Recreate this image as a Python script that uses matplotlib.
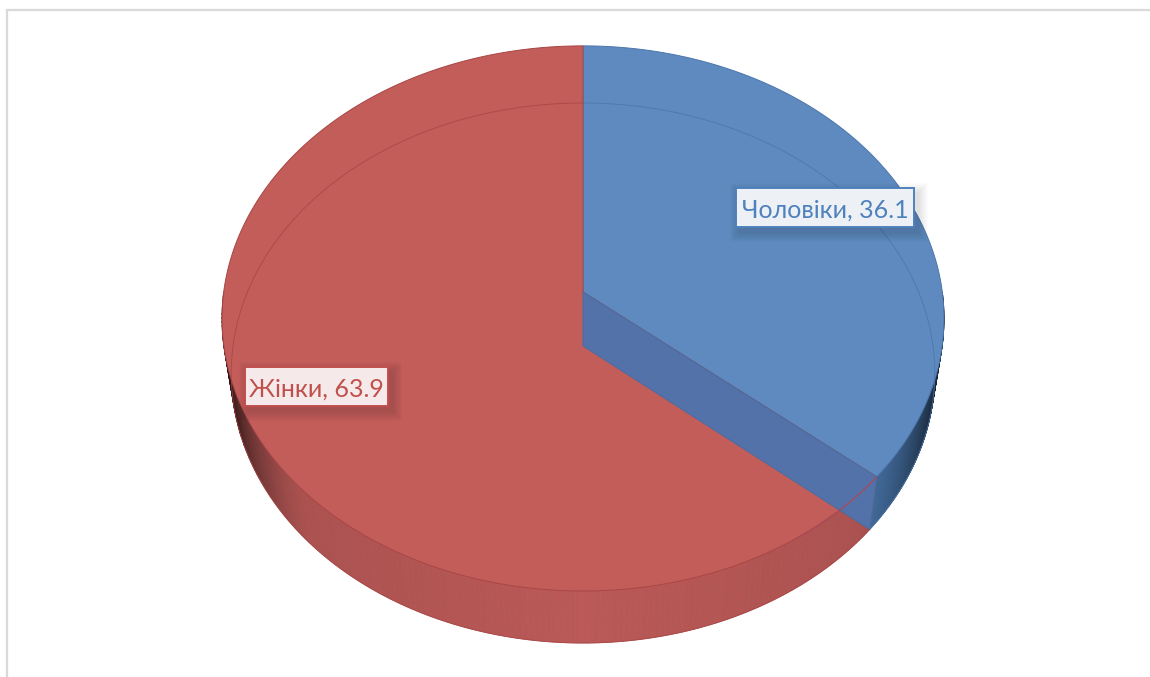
import numpy as np
import matplotlib
matplotlib.use('Agg')
import matplotlib.pyplot as plt
from matplotlib.patches import Polygon, Rectangle

labels = ['Чоловіки', 'Жінки']
values = [36.1, 63.9]
face_colors = ['#5E8ABF', '#C25D5A']
side_colors = ['#4A78AE', '#BA5957']
edge_colors = ['#4A76AB', '#A84545']
text_colors = ['#4F81BD', '#C0504D']
box_colors = ['#EDF1F6', '#F5E9E9']

plt.rcParams['font.family'] = ['Lato', 'Noto Sans', 'DejaVu Sans']

fig = plt.figure(figsize=(11.5, 6.77), dpi=100)
ax = fig.add_axes([0, 0, 1, 1])
ax.set_xlim(0, 1150)
ax.set_ylim(677, 0)
ax.axis('off')

# outer frame, only top and left fall inside the canvas
ax.plot([7, 7, 1150], [677, 10, 10], color='#D9D9D9', lw=1.6, solid_joinstyle='miter')

#perspective projection of the unit circle, angle runs clockwise from 12 o'clock
def project(theta, cy, a, b, k, r=1.0):
    x = r * np.sin(theta)
    y = r * np.cos(theta)
    w = 1 + k * y
    return 583 + a * x / w, cy - b * y / w

def top_rim(theta):
    return project(theta, 292, 359.3, 270, 0.097)

def bottom_rim(theta):
    return project(theta, 346, 350, 267.3, 0.1)

#wall goes dark towards the silhouette
def shade(color, theta):
    t = abs(np.sin(theta))
    f = 1 - 0.08 * min(1, t / 0.72) - 0.72 * max(0, (t - 0.72) / 0.28) ** 1.5
    return tuple(c * f for c in matplotlib.colors.to_rgb(color))

angles = np.cumsum([0] + values) / sum(values) * 2 * np.pi

# side wall, drawn as thin strips so it can be shaded
for i in range(2):
    start = max(angles[i], np.pi / 2)
    stop = min(angles[i + 1], 3 * np.pi / 2)
    steps = np.linspace(start, stop, 160)
    for t0, t1 in zip(steps[:-1], steps[1:]):
        x0, y0 = top_rim(t0)
        x1, y1 = top_rim(t1)
        x2, y2 = bottom_rim(t1)
        x3, y3 = bottom_rim(t0)
        c = shade(side_colors[i], (t0 + t1) / 2)
        ax.add_patch(Polygon([(x0, y0), (x1, y1), (x2, y2), (x3, y3)], closed=True,
                             facecolor=c, edgecolor=c, lw=0.6, zorder=2))

# top faces
for i in range(2):
    th = np.linspace(angles[i], angles[i + 1], 300)
    xs, ys = top_rim(th)
    pts = [(583, 292)] + list(zip(xs, ys))
    ax.add_patch(Polygon(pts, closed=True, facecolor=face_colors[i],
                         edgecolor=edge_colors[i], lw=0.7, zorder=3))

# cut face of the blue slice
cut = angles[1]
x_t, y_t = top_rim(cut)
x_b, y_b = bottom_rim(cut)
ax.add_patch(Polygon([(583, 292), (583, 346), (x_b, y_b), (x_t, y_t)], closed=True,
                     facecolor='#5372A9', edgecolor='#4A6CA2', lw=0.7, zorder=4))

# red rim seen through the cut face
th = np.linspace(cut, cut + 0.3, 40)
xs, ys = top_rim(th)
ax.plot(xs, ys, color='#A94A58', lw=0.9, zorder=5)

# far rim of the lower disc shows faintly through the top face
for i in range(2):
    th = np.linspace(angles[i], angles[i + 1], 300)
    xs, ys = bottom_rim(th)
    ax.plot(xs, ys, color=edge_colors[i], lw=0.7, alpha=0.8, zorder=5)

#label box with soft shadow
def value_box(x0, y0, x1, y1, text, color, fill):
    for n in range(10, 0, -1):
        ax.add_patch(Rectangle((x0 + 4 - n, y0 + 5 - n), x1 - x0 + 2 * n, y1 - y0 + 2 * n,
                               facecolor='black', edgecolor='none', alpha=0.011, zorder=6))
    ax.add_patch(Rectangle((x0, y0), x1 - x0, y1 - y0, facecolor=fill, edgecolor=color,
                           lw=1.4, zorder=7))
    ax.text((x0 + x1) / 2, (y0 + y1) / 2 + 0.5, text, color=color, fontsize=18,
            ha='center', va='center_baseline', zorder=8)

boxes = [(736, 188, 914, 227), (245, 367, 388, 406)]
for i in range(2):
    value_box(*boxes[i], f'{labels[i]}, {values[i]}', text_colors[i], box_colors[i])

fig.savefig('out.png', dpi=100)
